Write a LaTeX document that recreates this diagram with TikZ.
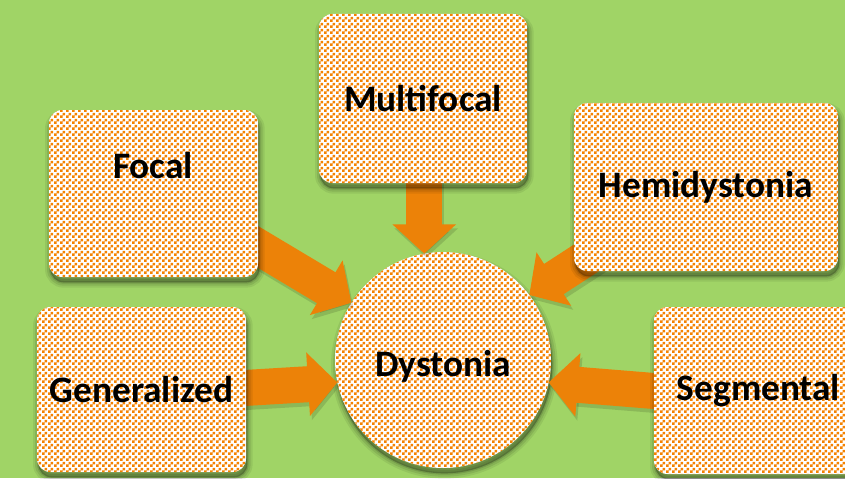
\documentclass[tikz,border=0pt]{standalone}
\usepackage{fontspec}
\setmainfont{Carlito}
\usetikzlibrary{arrows.meta,patterns.meta}
\definecolor{bgc}{RGB}{160,212,102}
\definecolor{arrc}{RGB}{236,130,8}
\definecolor{chk}{RGB}{244,130,0}
\pgfdeclarepattern{
  name=checker,
  type=uncolored,
  bottom left={\pgfpoint{0pt}{0pt}},
  top right={\pgfpoint{4.5pt}{4.5pt}},
  tile size={\pgfpoint{4.5pt}{4.5pt}},
  code={
    \pgfpathrectangle{\pgfpoint{0pt}{0pt}}{\pgfpoint{2.25pt}{2.25pt}}
    \pgfpathrectangle{\pgfpoint{2.25pt}{2.25pt}}{\pgfpoint{2.25pt}{2.25pt}}
    \pgfusepath{fill}
  }
}
\pgfdeclarelayer{bg}
\pgfdeclarelayer{front}
\pgfsetlayers{bg,main,front}
\begin{document}
\begin{tikzpicture}[x=0.75pt,y=-0.75pt,
  softshadow/.style={
    preaction={draw=black,line width=8pt,draw opacity=0.07,fill=black,fill opacity=0.07,transform canvas={xshift=1pt,yshift=-4pt}},
    preaction={draw=black,line width=5pt,draw opacity=0.09,fill=black,fill opacity=0.09,transform canvas={xshift=1pt,yshift=-4pt}},
    preaction={draw=black,line width=2pt,draw opacity=0.12,fill=black,fill opacity=0.12,transform canvas={xshift=1pt,yshift=-4pt}}},
  box/.style={softshadow,rounded corners=10pt,inner sep=0pt,outer sep=0pt,
    preaction={fill=white},pattern=checker,pattern color=chk,
    font=\fontsize{28}{32}\selectfont\bfseries},
  lbl/.style={font=\fontsize{28}{32}\selectfont\bfseries,inner sep=0pt},
  arr/.style={line width=27pt,draw=arrc,-{Triangle[length=22pt 0 0,width=46.5pt 0 0]}},
  arrsh/.style={line width=27pt,draw=black,opacity=0.13,
    transform canvas={xshift=1.5pt,yshift=-3pt},
    -{Triangle[length=22pt 0 0,width=46.5pt 0 0]}},
]
\useasboundingbox (0,0) rectangle (845,478);
\begin{pgfonlayer}{bg}
\fill[bgc] (0,0) rectangle (845,478);
\end{pgfonlayer}

\node[softshadow,circle,minimum size=162pt,inner sep=0pt,outer sep=0pt,
  preaction={fill=white},pattern=checker,pattern color=chk] (dys) at (443,360) {};
\node[lbl] (dyst) at (443,366) {Dystonia};

\begin{pgfonlayer}{front}
\node[box,minimum width=156pt,minimum height=126.75pt] (mf) at (423,98.5) {Multifocal};
\node[box,minimum width=156.75pt,minimum height=125.25pt] (focal) at (153.5,193.5) {};
\node[lbl] (focalt) at (153,166) {Focal};
\node[box,minimum width=198pt,minimum height=126pt] (hem) at (706,187) {Hemidystonia};
\node[box,minimum width=156.75pt,minimum height=123.75pt] (gen) at (141.5,389.5) {Generalized};
\node[box,minimum width=156.75pt,minimum height=125.25pt] (seg) at (758.5,390.5) {Segmental};
\end{pgfonlayer}

\draw[arrsh] (dys.100 |- mf.center) -- (dys.100);
\draw[arrsh] ([xshift=-22.5pt,yshift=36pt]focal.south east) -- (dys.148);
\draw[arrsh] ([xshift=25pt,yshift=20pt]hem.south west) -- (dys.37);
\draw[arrsh] ([xshift=-20pt]gen.east) -- (dys.192);
\draw[arrsh] ([xshift=20pt,yshift=-2pt]seg.west) -- (dys.348);

\draw[arr] (dys.100 |- mf.center) -- (dys.100);
\draw[arr] ([xshift=-22.5pt,yshift=36pt]focal.south east) -- (dys.148);
\draw[arr] ([xshift=25pt,yshift=20pt]hem.south west) -- (dys.37);
\draw[arr] ([xshift=-20pt]gen.east) -- (dys.192);
\draw[arr] ([xshift=20pt,yshift=-2pt]seg.west) -- (dys.348);
\end{tikzpicture}
\end{document}
